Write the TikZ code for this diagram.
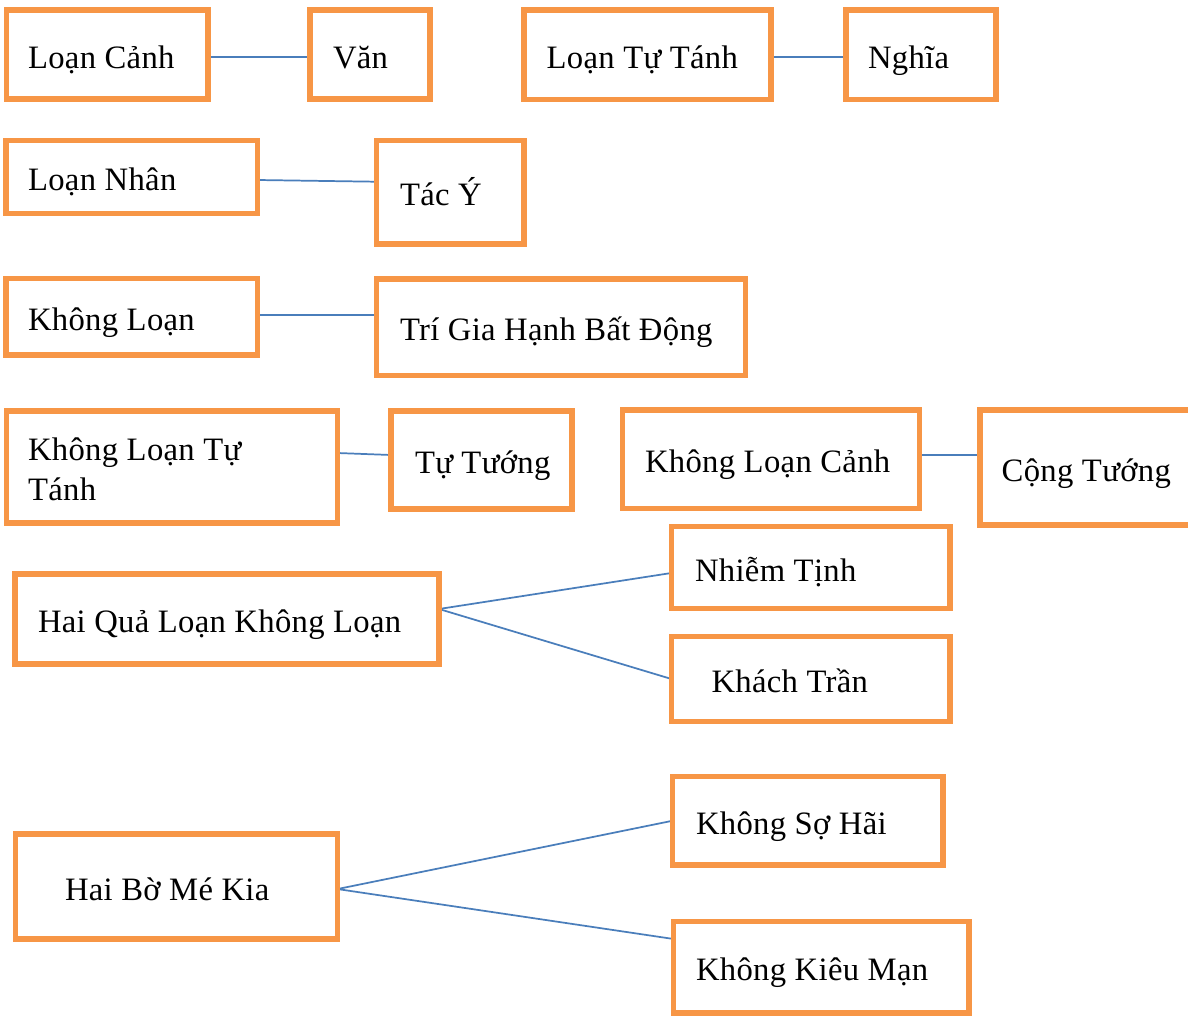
\documentclass[tikz,border=0pt]{standalone}
\usepackage{fontspec}
\setmainfont[LetterSpace=1]{Liberation Serif}
\usetikzlibrary{backgrounds}
\definecolor{boxorange}{HTML}{F79646}
\definecolor{linkblue}{HTML}{4A7EBB}
\tikzset{
  box/.style={draw=boxorange, line width=4.1pt, anchor=north west, outer sep=0pt, inner sep=0pt},
  boxtext/.style={anchor=base west, inner sep=0pt, outer sep=0pt, align=left,
    font=\fontsize{24.5}{30}\selectfont, text=black},
  link/.style={draw=linkblue, line width=1.3pt}
}
% name, x, y, w, h, pad, baseline (of last line), text
\newcommand\mybox[8]{%
  \pgfmathsetmacro\bw{(#4)*0.75}%
  \pgfmathsetmacro\bh{(#5)*0.75}%
  \node[box, minimum width=\bw pt, minimum height=\bh pt] (#1) at (#2,#3) {};
  \node[boxtext] (#1-t) at (#2+#6,#7) {#8};}
\begin{document}
\begin{tikzpicture}[x=0.75pt, y=-0.75pt]
\useasboundingbox (0,0) rectangle (1188,1017);
\clip (0,0) rectangle (1188,1017);

\mybox{LoanCanh}{6.5}{10}{201.5}{89}{21.5}{68}{Loạn Cảnh}
\mybox{Van}{310}{10}{120}{89}{23}{68}{Văn}
\mybox{LoanTuTanh}{524}{10}{247}{89.5}{22.7}{68.25}{Loạn Tự Tánh}
\mybox{Nghia}{846}{10}{150}{89.5}{22}{68.25}{Nghĩa}
\mybox{LoanNhan}{6}{140.5}{251.5}{73}{22}{190.5}{Loạn Nhân}
\mybox{TacY}{376.5}{140.5}{147.5}{103.5}{23.5}{205.75}{Tác Ý}
\mybox{KhongLoan}{6}{278.5}{251.5}{76.5}{22}{330.25}{Không Loạn}
\mybox{TriGia}{376.5}{279}{369}{96.5}{23.5}{340.75}{Trí Gia Hạnh Bất Động}
\mybox{KLTuTanh}{6.5}{411}{331}{112}{21.5}{500.5}{Không Loạn Tự\\Tánh}
\mybox{TuTuong}{391}{411}{181}{98}{24}{473.5}{Tự Tướng}
\mybox{KLCanh}{622.5}{410}{297}{98.5}{22.5}{472.75}{Không Loạn Cảnh}
\mybox{CongTuong}{980}{410}{250}{115}{21.7}{481}{Cộng Tướng}
\mybox{HaiQua}{15}{574}{424}{90}{23}{632.5}{Hai Quả Loạn Không Loạn}
\mybox{NhiemTinh}{671.5}{526.5}{278.5}{82}{23.5}{581}{Nhiễm Tịnh}
\mybox{KhachTran}{671.5}{636.5}{278.5}{85}{40}{692.5}{Khách Trần}
\mybox{HaiBo}{15.5}{834}{322}{105}{49.5}{900}{Hai Bờ Mé Kia}
\mybox{KhongSoHai}{672.5}{776.5}{270.5}{88.5}{23.5}{834.25}{Không Sợ Hãi}
\mybox{KhongKieuMan}{673.5}{921.5}{295.5}{91.5}{22.5}{980.75}{Không Kiêu Mạn}

\begin{pgfonlayer}{background}
\fill[white] (0,0) rectangle (1188,1017);
\draw[link] ([yshift=-1.9pt]LoanCanh.east) -- ([yshift=-1.9pt]Van.west);
\draw[link] ([yshift=-1.5pt]LoanTuTanh.east) -- ([yshift=-1.5pt]Nghia.west);
\draw[link] ([yshift=-2.25pt]LoanNhan.east) -- ([yshift=7.9pt]TacY.west);
\draw[link] ([yshift=1.3pt]KhongLoan.east) -- ([yshift=9.2pt]TriGia.west);
\draw[link] ([yshift=10.5pt]KLTuTanh.east) -- ([yshift=3.75pt]TuTuong.west);
\draw[link] ([yshift=3.2pt]KLCanh.east) -- ([yshift=9.4pt]CongTuong.west);
\draw[link] ([yshift=7.5pt]HaiQua.east) -- ([yshift=-4.1pt]NhiemTinh.west);
\draw[link] ([yshift=7.5pt]HaiQua.east) -- (KhachTran.west);
\draw[link] ([yshift=-1.9pt]HaiBo.east) -- (KhongSoHai.west);
\draw[link] ([yshift=-1.9pt]HaiBo.east) -- ([yshift=21.2pt]KhongKieuMan.west);
\end{pgfonlayer}
\end{tikzpicture}
\end{document}
